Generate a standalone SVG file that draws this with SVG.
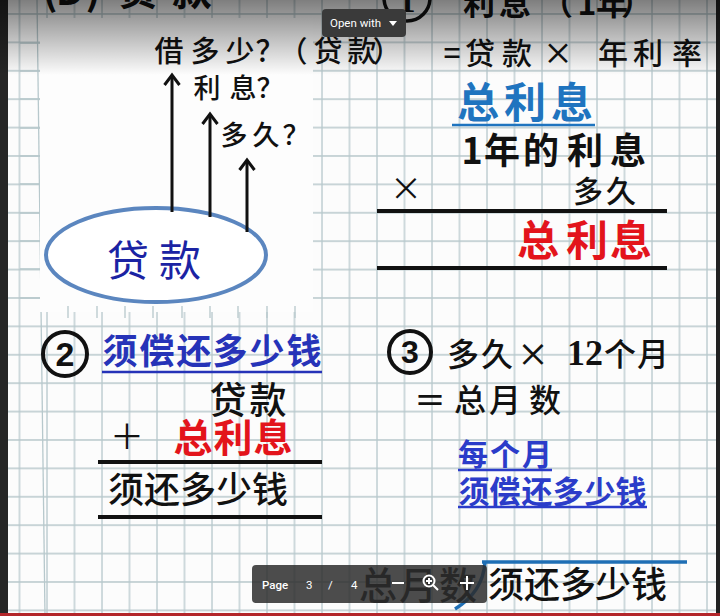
<svg xmlns="http://www.w3.org/2000/svg" width="720" height="616" viewBox="0 0 720 616">
<defs>
<style>
.cjk{font-family:"Noto Sans CJK SC","Noto Sans",sans-serif;text-anchor:middle}
.k{fill:#111}
.b{font-weight:700}
.m{font-weight:500}
.blue{fill:#1f74bf}
.navy{fill:#2633b8}
.red{fill:#e3141b}
.rule{stroke:#111;stroke-width:4;fill:none}
.ul{stroke-width:2.5;fill:none}
.ui{font-family:Roboto,"Liberation Sans",sans-serif;fill:#fff}
</style>
<pattern id="grid" patternUnits="userSpaceOnUse" x="18.5" y="13" width="27.5" height="28.4">
<path d="M1 0V28.4M0 1H27.5" stroke="#b7c8cc" stroke-width="1.3" fill="none"/>
</pattern>
<linearGradient id="shade" x1="0" y1="0" x2="0" y2="1">
<stop offset="0" stop-color="#000" stop-opacity="0.5"/>
<stop offset="1" stop-color="#000" stop-opacity="0"/>
</linearGradient>
<marker id="arr" markerUnits="userSpaceOnUse" markerWidth="24" markerHeight="24" refX="0" refY="0" orient="auto" overflow="visible">
<path d="M-10,-7.5 L0,0 L-10,7.5" fill="none" stroke="#111" stroke-width="3" stroke-linejoin="miter"/>
</marker>
</defs>

<!-- paper -->
<rect x="0" y="0" width="720" height="616" fill="#fcfcfc"/>
<rect x="8" y="0" width="708" height="613" fill="url(#grid)"/>
<line x1="37" y1="0" x2="45" y2="616" stroke="#b7c8cc" stroke-width="1.3"/>
<rect x="40" y="18" width="273" height="294" fill="#fdfdfd"/>
<g stroke="#b7c8cc" stroke-width="1.3">
<path d="M20 43H40M20 71H40M20 99H40M20 128H40M20 156H40M20 184H40M20 213H40M20 241H40M20 269H40M20 298H40"/>
<path d="M68 306V318M97 306V318M125 306V318M153 306V318M182 306V318M210 306V318M238 306V318M267 306V318M295 306V318"/>
</g>
<rect x="0" y="0" width="8" height="616" fill="#262626"/>
<rect x="716" y="0" width="4" height="616" fill="#222"/>
<rect x="0" y="613" width="720" height="3" fill="#b3262a"/>

<!-- top cut heading -->
<g id="title-left">
<text class="cjk k b" font-size="40" x="50 70 93 138 192" y="5">(D)贷款</text>
</g>
<g id="title-right">
<circle cx="407" cy="-2" r="23" fill="none" stroke="#111" stroke-width="3.5"/>
<text font-family="Liberation Serif,serif" font-weight="700" font-size="34" fill="#111" text-anchor="middle" x="407" y="12">1</text>
<text class="cjk k b" font-size="32" x="479 515 557 587 612 637" y="15">利息（1年）</text>
</g>

<!-- left question block -->
<g id="q-loan"><text class="cjk k m" font-size="29" x="169 205 240 270 293 328 362 387" y="62">借多少？（贷款）</text></g>
<g id="q-interest"><text class="cjk k m" font-size="27" x="207 243 270" y="98">利息？</text></g>
<g id="q-time"><text class="cjk k m" font-size="27" x="234 266 296" y="145">多久？</text></g>
<g id="loan">
<ellipse cx="156" cy="255" rx="110" ry="47" fill="#fff" stroke="#5b86bf" stroke-width="4"/>
<text class="cjk" font-size="42" fill="#1b23a3" x="128 180" y="276">贷款</text>
</g>
<g id="connectors" stroke="#111" stroke-width="3" fill="none" marker-end="url(#arr)">
<path d="M172 212V75"/>
<path d="M210 217V114"/>
<path d="M247 232V160"/>
</g>

<!-- formula 1 -->
<g id="formula1">
<text class="cjk k m" font-size="30" x="452 480 517 558 585 613 648 687" y="64">=贷款× 年利率</text>
</g>
<g id="total-interest-calc">
<text class="cjk blue b" font-size="42" x="478 525 572" y="118">总利息</text>
<line x1="452" y1="125" x2="595" y2="125" class="ul" stroke="#1f74bf"/>
<text class="cjk k b" font-size="36" x="472 502 541 585 628" y="164">1年的利息</text>
<text class="cjk k" font-size="32" x="406" y="200">×</text>
<text class="cjk k m" font-size="30" x="588 621" y="202">多久</text>
<line x1="377" y1="211" x2="667" y2="211" class="rule"/>
<text class="cjk red b" font-size="42" x="538 587 631" y="256">总利息</text>
<line x1="377" y1="268" x2="667" y2="268" class="rule"/>
</g>

<!-- section 2 -->
<g id="step2">
<circle cx="65" cy="354" r="22" fill="none" stroke="#111" stroke-width="4"/>
<text font-family="Liberation Sans,sans-serif" font-weight="700" font-size="34" fill="#111" text-anchor="middle" x="65" y="366">2</text>
<text class="cjk navy b" font-size="35" x="120 157 194 230 267 304" y="364">须偿还多少钱</text>
<line x1="102" y1="372" x2="322" y2="372" class="ul" stroke="#2633b8"/>
<text class="cjk k m" font-size="37" x="228 268" y="414">贷款</text>
<text class="cjk k" font-size="34" x="127" y="449">＋</text>
<text class="cjk red b" font-size="39" x="193 233 273" y="452">总利息</text>
<line x1="98" y1="462" x2="322" y2="462" class="rule"/>
<text class="cjk k m" font-size="36" x="126 162 198 234 270" y="503">须还多少钱</text>
<line x1="98" y1="517" x2="322" y2="517" class="rule"/>
</g>

<!-- section 3 -->
<g id="step3">
<circle cx="410" cy="352" r="21" fill="none" stroke="#111" stroke-width="4"/>
<text font-family="Liberation Sans,sans-serif" font-weight="700" font-size="32" fill="#111" text-anchor="middle" x="410" y="363">3</text>
<text class="cjk k m" font-size="32" x="463 497 533" y="366">多久×</text>
<text font-family="Liberation Serif,serif" font-weight="700" font-size="36" fill="#111" text-anchor="middle" x="585" y="365">12</text>
<text class="cjk k m" font-size="32" x="620 653" y="366">个月</text>
<text class="cjk k m" font-size="32" x="430 470 505 545" y="412">＝总月数</text>
<text class="cjk b" font-size="30" fill="#2b3cc9" x="473 505 537" y="465">每个月</text>
<line x1="458" y1="470" x2="552" y2="470" class="ul" stroke="#2b3cc9"/>
<text class="cjk b" font-size="31" fill="#2b3cc9" x="474 505 537 568 600 631" y="503">须偿还多少钱</text>
<line x1="458" y1="507" x2="647" y2="507" class="ul" stroke="#2b3cc9"/>
</g>

<!-- division -->
<g id="division">
<path d="M482 562H687" stroke="#1f6fb5" stroke-width="3.5" fill="none"/>
<path d="M485 562Q483 592 455 609" stroke="#1f6fb5" stroke-width="3.5" fill="none"/>
<text class="cjk k m" font-size="38" x="378 418 458" y="599">总月数</text>
<text class="cjk k m" font-size="36" x="506 542 578 613 649" y="598">须还多少钱</text>
</g>

<!-- viewer overlays -->
<rect x="0" y="0" width="720" height="75" fill="url(#shade)"/>
<g id="open-with">
<rect x="322" y="9" width="84" height="28" rx="4" fill="#3a3a3a"/>
<text class="ui" font-size="11.5" x="330" y="27">Open with</text>
<path d="M389 21H397L393 26Z" fill="#fff"/>
</g>
<g id="page-bar">
<rect x="252" y="565" width="235" height="38" rx="4" fill="#2d2d2d" opacity="0.85"/>
<text class="ui" font-size="11.5" font-weight="500" x="262" y="589">Page</text>
<text class="ui" font-size="11.5" x="306" y="589">3</text>
<text class="ui" font-size="11.5" x="328" y="589">/</text>
<text class="ui" font-size="11.5" x="351" y="589">4</text>
<g stroke="#fff" stroke-width="2" fill="none">
<path d="M392 583H404"/>
<circle cx="429" cy="581" r="5.5"/>
<path d="M426 581H432M429 578V584M433 585L438 590"/>
<path d="M460 583H474M467 576V590"/>
</g>
</g>
</svg>
